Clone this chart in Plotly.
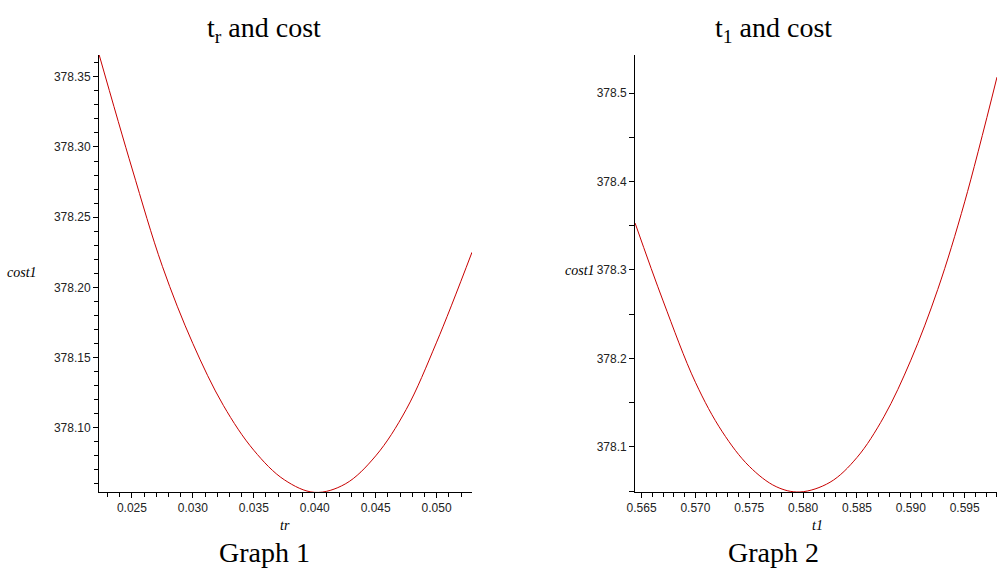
import plotly.graph_objects as go

# Graph 1: tr vs cost1
tr_vals = [0.0223, 0.025, 0.0275, 0.030, 0.0325, 0.035, 0.0375, 0.040, 0.0425, 0.045, 0.0475, 0.050, 0.0529]
cost_tr = [378.366, 378.285, 378.215, 378.160, 378.116, 378.084, 378.063, 378.054, 378.060, 378.080, 378.113, 378.161, 378.225]

# Graph 2: t1 vs cost1
t1_vals = [0.5644, 0.567, 0.570, 0.5725, 0.575, 0.5775, 0.5797, 0.5825, 0.585, 0.5875, 0.590, 0.5925, 0.595, 0.598]
cost_t1 = [378.353, 378.265, 378.173, 378.117, 378.078, 378.055, 378.049, 378.060, 378.088, 378.134, 378.198, 378.278, 378.377, 378.518]

titles = ["t<sub>r</sub> and cost", "t<sub>1</sub> and cost"]
captions = ["Graph 1", "Graph 2"]
xlabels = ["tr", "t1"]
ylabel = "cost1"

LINE = "rgb(200,0,0)"
TICKFONT = dict(family="Liberation Sans", size=12, color="#222")
SERIF = "Liberation Serif"

fig = go.Figure()
fig.add_trace(go.Scatter(x=tr_vals, y=cost_tr, mode="lines", line=dict(color=LINE, width=1, shape="spline"),
                         xaxis="x", yaxis="y", showlegend=False, hoverinfo="skip"))
fig.add_trace(go.Scatter(x=t1_vals, y=cost_t1, mode="lines", line=dict(color=LINE, width=1, shape="spline"),
                         xaxis="x2", yaxis="y2", showlegend=False, hoverinfo="skip"))

ydom = [0.1503, 0.905]
common_ax = dict(showgrid=False, zeroline=False, showline=True, linecolor="black", linewidth=1,
                 ticks="outside", ticklen=5, tickcolor="black", tickfont=TICKFONT, automargin=False)

fig.update_layout(
    width=997, height=579,
    margin=dict(l=0, r=0, t=0, b=0, autoexpand=False),
    paper_bgcolor="white", plot_bgcolor="white",
    xaxis=dict(domain=[0.0993, 0.4734], range=[0.0223, 0.0529], tickvals=[0.025, 0.030, 0.035, 0.040, 0.045, 0.050],
               tickformat=".3f", minor=dict(dtick=0.001, tick0=0, ticks="outside", ticklen=4, tickcolor="black"),
               anchor="y", **common_ax),
    yaxis=dict(domain=ydom, range=[378.0543, 378.3655], dtick=0.05, tick0=378.0, tickformat=".2f",
               minor=dict(dtick=0.01, tick0=378.0, ticks="outside", ticklen=4, tickcolor="black"),
               anchor="x", **common_ax),
    xaxis2=dict(domain=[0.637, 1.0], range=[0.5644, 0.598], tickvals=[0.565, 0.570, 0.575, 0.580, 0.585, 0.590, 0.595],
                tickformat=".3f", minor=dict(dtick=0.001, tick0=0, ticks="outside", ticklen=4, tickcolor="black"),
                anchor="y2", **common_ax),
    yaxis2=dict(domain=ydom, range=[378.049, 378.543], dtick=0.1, tick0=378.0, tickformat=".1f",
                minor=dict(dtick=0.05, tick0=378.0, ticks="outside", ticklen=5, tickcolor="black"),
                anchor="x2", **common_ax),
)

ann = []
# titles
for txt, xc in zip(titles, [264 / 997, 773 / 997]):
    ann.append(dict(text=txt, x=xc, y=1 - 30 / 579, xref="paper", yref="paper", showarrow=False,
                    font=dict(family=SERIF, size=28, color="black"), xanchor="center", yanchor="middle"))
for txt, xc in zip(captions, [264 / 997, 773 / 997]):
    ann.append(dict(text=txt, x=xc, y=1 - 552 / 579, xref="paper", yref="paper", showarrow=False,
                    font=dict(family=SERIF, size=28, color="black"), xanchor="center", yanchor="middle"))
# axis labels
for txt, xc in zip(xlabels, [285 / 997, 817 / 997]):
    ann.append(dict(text="<i>" + txt + "</i>", x=xc, y=1 - 525 / 579, xref="paper", yref="paper", showarrow=False,
                    font=dict(family=SERIF, size=14, color="black"), xanchor="center", yanchor="middle"))
for xc, yc in zip([22 / 997, 580 / 997], [272 / 579, 270 / 579]):
    ann.append(dict(text="<i>" + ylabel + "</i>", x=xc, y=1 - yc, xref="paper", yref="paper", showarrow=False,
                    font=dict(family=SERIF, size=14, color="black"), xanchor="center", yanchor="middle"))
fig.update_layout(annotations=ann)

fig.write_html("out.html", config={"displayModeBar": False},
               post_script="document.body.style.margin='0px';document.body.style.overflow='hidden';")
